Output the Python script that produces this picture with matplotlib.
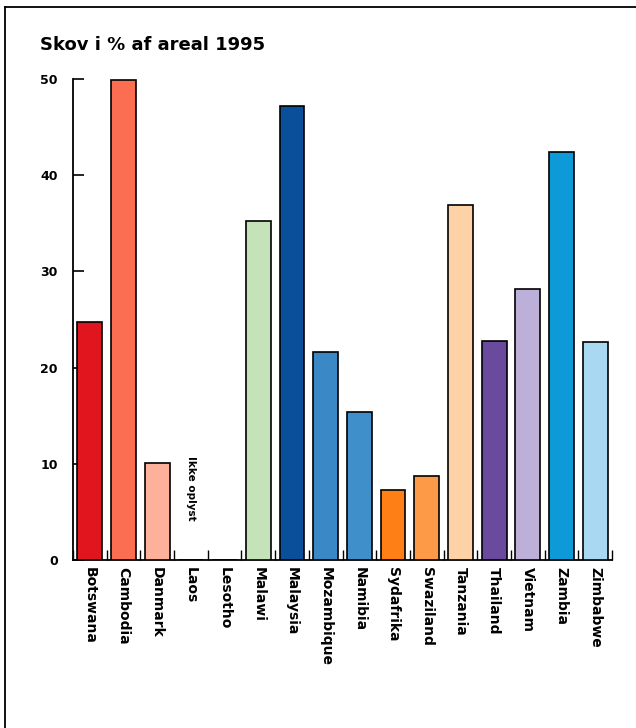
import matplotlib
matplotlib.use("Agg")
import matplotlib.pyplot as plt
import numpy as np

countries = ["Botswana", "Cambodia", "Danmark", "Laos", "Lesotho", "Malawi",
             "Malaysia", "Mozambique", "Namibia", "Sydafrika", "Swaziland",
             "Tanzania", "Thailand", "Vietnam", "Zambia", "Zimbabwe"]
forest_pct = [24.7, 49.9, 10.1, np.nan, 0.0, 35.2, 47.2, 21.6, 15.4, 7.3, 8.7,
              36.9, 22.8, 28.2, 42.4, 22.7]
colors = ["#e0151e", "#fb6e52", "#fdb09a", "#ffffff", "#ffffff", "#c5e3b8",
          "#0a4f9a", "#3a88c5", "#3f8fca", "#fd7f16", "#fd9a48", "#fdd2a6",
          "#6a4a9c", "#bcafd8", "#0e9ad8", "#a8d8f2"]
yticks = [0, 10, 20, 30, 40, 50]
title = "Skov i % af areal 1995"
missing_note = "Ikke oplyst"

plt.rcParams['font.family'] = ['DejaVu Sans']

fig = plt.figure(figsize=(6.36, 7.28), dpi=100)
ax = fig.add_axes([73/636, 1-560/728, (612-73)/636, (560-79)/728])

x = np.arange(len(countries))
vals = np.nan_to_num(np.array(forest_pct, dtype=float))
ax.bar(x, vals, width=0.74, color=colors, edgecolor="black", linewidth=1.2,
       zorder=3)

ax.set_xlim(-0.5, len(countries) - 0.5)
ax.set_ylim(0, 50)

for s in ["top", "right"]:
    ax.spines[s].set_visible(False)
for s in ["left", "bottom"]:
    ax.spines[s].set_linewidth(1.3)

ax.set_yticks(yticks)
ax.set_yticklabels([str(t) for t in yticks], fontsize=9, fontweight="bold")
ax.tick_params(axis="y", direction="in", length=8, width=1.2, pad=11)

ax.set_xticks(np.arange(-0.5, len(countries) + 0.5, 1.0), minor=False)
ax.set_xticklabels([])
ax.tick_params(axis="x", which="major", direction="in", length=7, width=1.0)
ax.set_xticks(x, minor=True)
ax.set_xticklabels(countries, minor=True, rotation=-90, fontsize=10,
                   fontweight="bold", va="top", ha="center")
ax.tick_params(axis="x", which="minor", length=0, pad=5)

# note for missing data
for i, v in enumerate(forest_pct):
    if np.isnan(v):
        ax.text(i, 7.5, missing_note, rotation=-90, ha="center", va="center",
                fontsize=7.5, fontweight="bold")

fig.text(40/636, 1-45/728, title, fontsize=13, fontweight="bold",
         ha="left", va="center")

# frame lines (left and top)
fig.add_artist(plt.Line2D([5/636, 5/636], [0, 1-7/728], color="black",
                          linewidth=1.3, transform=fig.transFigure))
fig.add_artist(plt.Line2D([5/636, 1], [1-7/728, 1-7/728], color="black",
                          linewidth=1.3, transform=fig.transFigure))

fig.savefig("out.png", dpi=100)
